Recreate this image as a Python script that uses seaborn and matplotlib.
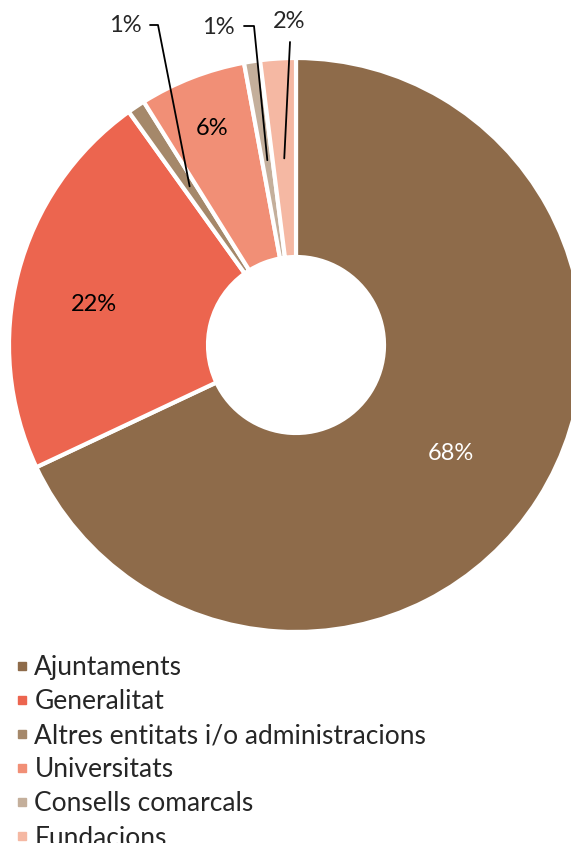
import numpy as np
import matplotlib.pyplot as plt
import seaborn as sns
from matplotlib.lines import Line2D

# dades
categories = ['Ajuntaments', 'Generalitat', 'Altres entitats i/o administracions',
              'Universitats', 'Consells comarcals', 'Fundacions']
valors = [68.0, 22.1, 1.0, 6.0, 0.9, 2.0]
etiquetes = ['68%', '22%', '1%', '6%', '1%', '2%']
colors = ['#8E6B4A', '#EC654F', '#A5886A', '#F18F76', '#C4AF9B', '#F5B8A3']

sns.set_style('white')
plt.rcParams['font.family'] = ['Lato', 'DejaVu Sans']

W, H = 571, 843
fig = plt.figure(figsize=(W / 100, H / 100), dpi=100)
ax = fig.add_axes([0, 0, 1, 1])
ax.axis('off')

# centre i radi del donut (en pixels, y cap amunt)
cx, cy, R = 296, H - 345, 287
ax.pie(valors, colors=colors, startangle=90, counterclock=False,
       center=(cx, cy), radius=R,
       wedgeprops=dict(width=R - 88, edgecolor='white', linewidth=3))
ax.set_aspect('equal')
ax.set_xlim(0, W)
ax.set_ylim(0, H)

# angle mig de cada sector
acum = np.cumsum(valors) - np.array(valors) / 2
angles = 90 - acum / sum(valors) * 360

def punt(i, r, desvia=0):
    a = np.deg2rad(angles[i] + desvia)
    return cx + r * np.cos(a), cy + r * np.sin(a)

# etiquetes dins: radi, desviacio d'angle, color
dins = {0: (189, -2.6, 'white'), 1: (206, 3.1, 'black'), 3: (232, 0, 'black')}
for i, (r, d, c) in dins.items():
    x, y = punt(i, r, d)
    ax.text(x, y, etiquetes[i], color=c, fontsize=17, ha='center', va='center')

# etiquetes amb linia guia
guies = [(2, 191, (158, 25), (150, 25), (125, 26)),
         (4, 187, (254, 26), (244, 26), (218, 27))]
for i, r, colze, fi, txt in guies:
    x0, y0 = punt(i, r)
    ax.plot([x0, colze[0], fi[0]], [y0, H - colze[1], H - fi[1]], color='black', lw=1.3)
    ax.text(txt[0], H - txt[1], etiquetes[i], fontsize=17, ha='center', va='center')

x0, y0 = punt(5, 187)
ax.plot([x0, 290], [y0, H - 42], color='black', lw=1.3)
ax.text(289, H - 21, etiquetes[5], fontsize=17, ha='center', va='center')

# llegenda (l'ultima fila queda tallada, com a l'original)
handles = [Line2D([], [], marker='s', color=c, linestyle='', markersize=6) for c in colors]
fig.legend(handles, categories, loc='upper left', bbox_to_anchor=(17 / W, 1 - 655 / H),
           frameon=False, fontsize=19, handlelength=0.4, handletextpad=0.26,
           labelspacing=0.345, borderaxespad=0, borderpad=0.0)

plt.savefig('out.png', dpi=100)
